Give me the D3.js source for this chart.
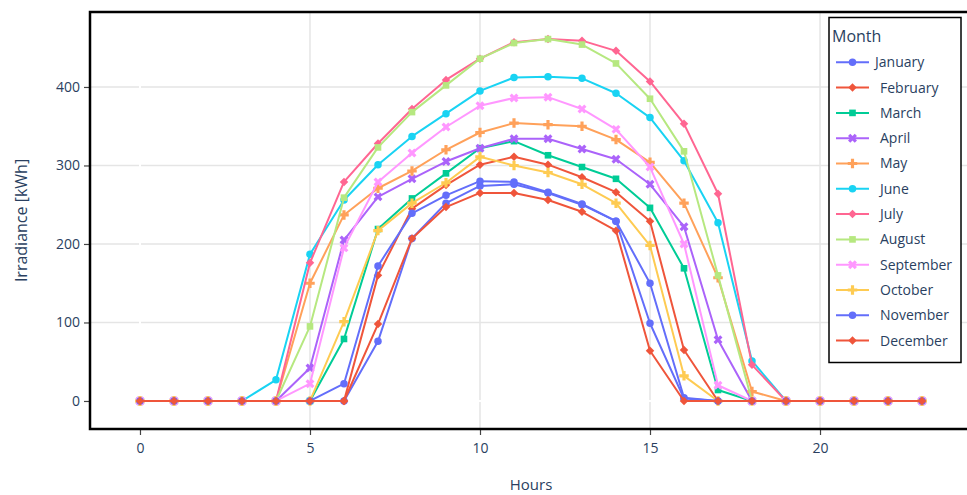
<!DOCTYPE html>
<html>
<head>
<meta charset="utf-8">
<script src="https://cdn.jsdelivr.net/npm/d3@7"></script>
<style>
  body { margin: 0; background: #fff; }
  svg { display: block; font-family: "Open Sans", "Noto Sans", sans-serif; }
</style>
</head>
<body>
<svg id="chart" width="967" height="495"></svg>
<script>
const hours = [0, 1, 2, 3, 4, 5, 6, 7, 8, 9, 10, 11, 12, 13, 14, 15, 16, 17, 18, 19, 20, 21, 22, 23];
const months = ["January", "February", "March", "April", "May", "June",
  "July", "August", "September", "October", "November", "December"];
const colors = ["#636efa", "#EF553B", "#00cc96", "#ab63fa", "#FFA15A", "#19d3f3",
  "#FF6692", "#B6E880", "#FF97FF", "#FECB52", "#636efa", "#EF553B"];
const symbols = ["circle", "diamond", "square", "x", "cross",
  "circle", "diamond", "square", "x", "cross", "circle", "diamond"];

const january   = [0, 0, 0, 0, 0, 0, 0, 76, 207, 252, 274, 276, 265, 250, 229, 150, 4, 0, 0, 0, 0, 0, 0, 0];
const february  = [0, 0, 0, 0, 0, 0, 0, 160, 245, 275, 301, 311, 301, 285, 266, 229, 65, 0, 0, 0, 0, 0, 0, 0];
const march     = [0, 0, 0, 0, 0, 0, 79, 219, 258, 290, 322, 331, 313, 298, 283, 246, 169, 14, 0, 0, 0, 0, 0, 0];
const april     = [0, 0, 0, 0, 0, 42, 205, 260, 283, 305, 322, 334, 334, 321, 308, 276, 222, 78, 0, 0, 0, 0, 0, 0];
const may       = [0, 0, 0, 0, 0, 150, 237, 271, 293, 320, 342, 354, 352, 350, 333, 304, 252, 157, 12, 0, 0, 0, 0, 0];
const june      = [0, 0, 0, 0, 27, 187, 256, 301, 337, 366, 395, 412, 413, 411, 392, 361, 306, 227, 51, 0, 0, 0, 0, 0];
const july      = [0, 0, 0, 0, 0, 176, 279, 328, 372, 409, 436, 457, 461, 459, 446, 407, 353, 264, 46, 0, 0, 0, 0, 0];
const august    = [0, 0, 0, 0, 0, 95, 259, 323, 368, 402, 436, 456, 461, 454, 430, 385, 318, 160, 0, 0, 0, 0, 0, 0];
const september = [0, 0, 0, 0, 0, 22, 195, 279, 316, 349, 376, 386, 387, 372, 346, 298, 200, 20, 0, 0, 0, 0, 0, 0];
const october   = [0, 0, 0, 0, 0, 0, 101, 217, 252, 278, 311, 300, 291, 276, 252, 198, 32, 0, 0, 0, 0, 0, 0, 0];
const november  = [0, 0, 0, 0, 0, 0, 22, 172, 239, 262, 280, 279, 266, 251, 229, 99, 3, 0, 0, 0, 0, 0, 0, 0];
const december  = [0, 0, 0, 0, 0, 0, 0, 98, 207, 247, 265, 265, 256, 241, 217, 64, 0, 0, 0, 0, 0, 0, 0, 0];

const seriesValues = [january, february, march, april, may, june,
  july, august, september, october, november, december];

const xTicks = [0, 5, 10, 15, 20];
const yTicks = [0, 100, 200, 300, 400];

const plot = { left: 90, right: 972, top: 12, bottom: 429 };
const fontColor = "#2a3f5f";

const svg = d3.select("#chart");

const x = d3.scaleLinear().domain([-1.47, 24.47]).range([plot.left, plot.right]);
const y = d3.scaleLinear().domain([-35.7, 495.5]).range([plot.bottom, plot.top]);

// marker shapes, plotly style (diamond = rotated square, x = rotated cross)
function markerPath(sym) {
  if (sym === "circle") return d3.symbol(d3.symbolCircle, 44)();
  if (sym === "diamond") return d3.symbol(d3.symbolSquare, 36)();
  if (sym === "square") return d3.symbol(d3.symbolSquare, 44)();
  return d3.symbol(d3.symbolCross, 50)();
}
function markerRot(sym) {
  return sym === "x" || sym === "diamond" ? " rotate(45)" : "";
}

// grid
const grid = svg.append("g");
grid.selectAll("line.gx")
  .data(xTicks.filter(d => d !== 0))
  .join("line")
  .attr("x1", d => x(d)).attr("x2", d => x(d))
  .attr("y1", plot.top).attr("y2", plot.bottom)
  .attr("stroke", "#e5e5e5")
  .attr("stroke-width", 1.5);
grid.selectAll("line.gy")
  .data(yTicks.filter(d => d !== 0))
  .join("line")
  .attr("x1", plot.left).attr("x2", plot.right)
  .attr("y1", d => y(d)).attr("y2", d => y(d))
  .attr("stroke", "#e5e5e5")
  .attr("stroke-width", 1.5);

// zero lines (white)
grid.append("line")
  .attr("x1", x(0)).attr("x2", x(0))
  .attr("y1", plot.top).attr("y2", plot.bottom)
  .attr("stroke", "#fff").attr("stroke-width", 2);
grid.append("line")
  .attr("x1", plot.left).attr("x2", plot.right)
  .attr("y1", y(0)).attr("y2", y(0))
  .attr("stroke", "#fff").attr("stroke-width", 2);

// axes
const xAxis = svg.append("g")
  .attr("transform", `translate(0,${plot.bottom})`)
  .call(d3.axisBottom(x).tickValues(xTicks).tickSize(6).tickPadding(8));
const yAxis = svg.append("g")
  .attr("transform", `translate(${plot.left},0)`)
  .call(d3.axisLeft(y).tickValues(yTicks).tickSize(6).tickPadding(4));

[xAxis, yAxis].forEach(ax => {
  ax.select(".domain").remove();
  ax.selectAll(".tick line").attr("stroke", "#444").attr("stroke-width", 1.2);
  ax.selectAll(".tick text")
    .attr("fill", fontColor)
    .style("font-size", "14px")
    .style("font-family", "'Open Sans', sans-serif");
});

// lines + markers
const line = d3.line().x((d, i) => x(hours[i])).y(d => y(d));
const traces = svg.append("g");
seriesValues.forEach((vals, k) => {
  const g = traces.append("g");
  g.append("path")
    .datum(vals)
    .attr("d", line)
    .attr("fill", "none")
    .attr("stroke", colors[k])
    .attr("stroke-width", 2)
    .attr("stroke-linejoin", "round");
  g.selectAll("path.m")
    .data(vals)
    .join("path")
    .attr("class", "m")
    .attr("d", markerPath(symbols[k]))
    .attr("transform", (d, i) => `translate(${x(hours[i])},${y(d)})${markerRot(symbols[k])}`)
    .attr("fill", colors[k]);
});

// frame
svg.append("rect")
  .attr("x", plot.left).attr("y", plot.top)
  .attr("width", plot.right - plot.left)
  .attr("height", plot.bottom - plot.top)
  .attr("fill", "none")
  .attr("stroke", "#000")
  .attr("stroke-width", 2.5);

// axis titles
svg.append("text")
  .attr("x", 531)
  .attr("y", 490)
  .attr("text-anchor", "middle")
  .attr("fill", fontColor)
  .style("font-size", "15px")
  .text("Hours");

svg.append("text")
  .attr("transform", `translate(27,${(plot.top + plot.bottom) / 2}) rotate(-90)`)
  .attr("text-anchor", "middle")
  .attr("fill", fontColor)
  .style("font-size", "16px")
  .text("Irradiance [kWh]");

// legend
const legend = svg.append("g");
legend.append("rect")
  .attr("x", 829).attr("y", 17.5)
  .attr("width", 132).attr("height", 345)
  .attr("fill", "#fff")
  .attr("stroke", "#000")
  .attr("stroke-width", 1.5);
legend.append("text")
  .attr("x", 832).attr("y", 42)
  .attr("fill", fontColor)
  .style("font-size", "16px")
  .text("Month");

const items = legend.selectAll("g.item")
  .data(months)
  .join("g")
  .attr("transform", (d, i) => `translate(0,${62.3 + i * 25.3})`);
items.append("line")
  .attr("x1", 836).attr("x2", 869)
  .attr("stroke", (d, i) => colors[i])
  .attr("stroke-width", 2);
items.append("path")
  .attr("d", (d, i) => markerPath(symbols[i]))
  .attr("transform", (d, i) => `translate(852.5,0)${markerRot(symbols[i])}`)
  .attr("fill", (d, i) => colors[i]);
items.append("text")
  .attr("x", (d, i) => i === 0 ? 875 : 880)
  .attr("dy", "0.35em")
  .attr("fill", fontColor)
  .style("font-size", "14px")
  .text(d => d);
</script>
</body>
</html>
